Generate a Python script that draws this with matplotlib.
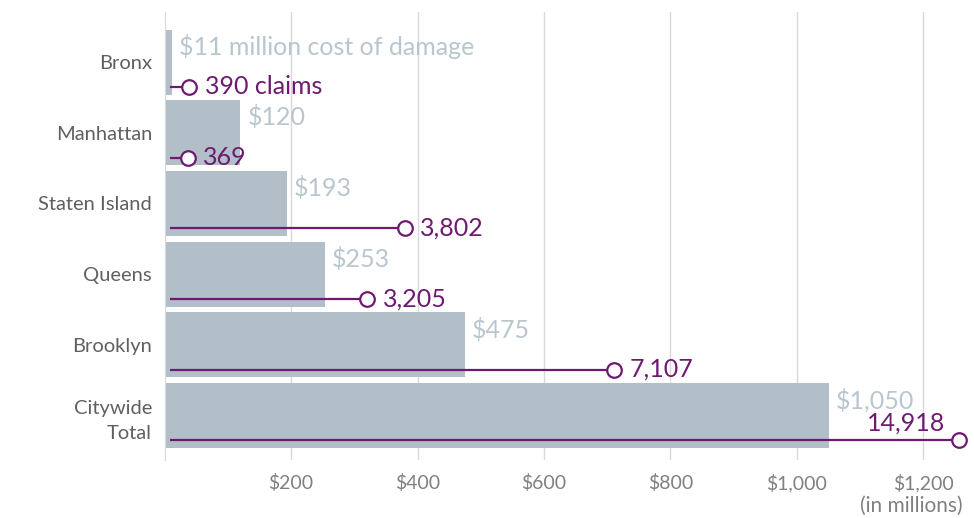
import matplotlib.pyplot as plt
import numpy as np

BOROUGHS = ["Bronx", "Manhattan", "Staten Island", "Queens", "Brooklyn", "Citywide\nTotal"]
COST     = [11, 120, 193, 253, 475, 1050]          # $ millions
CLAIMS   = [390, 369, 3802, 3205, 7107, 14918]
XTICKS   = [200, 400, 600, 800, 1000, 1200]

CLAIM_SCALE = 10     # claims drawn on the cost axis as claims / 10
XMAX = 1257

BAR_C   = "#b2bfc8"
COST_C  = "#b9c6cf"
PURPLE  = "#6e1a70"
GRID_C  = "#d9d9d9"
TICK_C  = "#808080"
CAT_C   = "#606060"

plt.rcParams["font.family"] = ["Lato", "DejaVu Sans"]

fig = plt.figure(figsize=(9.74, 5.18), dpi=100)
ax = fig.add_axes([0.169, 0.112, 0.816, 0.865])

y = np.arange(len(BOROUGHS))
ax.barh(y, COST, height=0.92, color=BAR_C, zorder=2)

line_y = y + 0.35
claim_x = np.minimum(np.array(CLAIMS) / CLAIM_SCALE, XMAX)
for yi, cx in zip(line_y, claim_x):
    ax.plot([8, cx], [yi, yi], color=PURPLE, lw=1.6, zorder=3, solid_capstyle="butt")
ax.scatter(claim_x, line_y, s=110, facecolor="white", edgecolor=PURPLE,
           linewidth=1.6, zorder=4, clip_on=False)

for i, (c, n) in enumerate(zip(COST, CLAIMS)):
    ctxt = f"${c:,} million cost of damage" if i == 0 else f"${c:,}"
    ntxt = f"{n:,} claims" if i == 0 else f"{n:,}"
    ax.annotate(ctxt, (c, y[i]), xytext=(5, 11), textcoords="offset points",
                ha="left", va="center", fontsize=18, color=COST_C, zorder=5)
    if i == len(COST) - 1:
        ax.annotate(ntxt, (claim_x[i], line_y[i]), xytext=(-10, 12), textcoords="offset points",
                    ha="right", va="center", fontsize=18, color=PURPLE, zorder=5)
    else:
        ax.annotate(ntxt, (claim_x[i], line_y[i]), xytext=(11, 0), textcoords="offset points",
                    ha="left", va="center", fontsize=18, color=PURPLE, zorder=5)

ax.set_xlim(0, XMAX)
ax.set_ylim(5.63, -0.71)
ax.set_xticks(XTICKS)
ax.set_xticklabels([f"${v:,}" for v in XTICKS], fontsize=14, color=TICK_C)
ax.set_yticks(y)
ax.set_yticklabels(BOROUGHS, fontsize=14.5, color=CAT_C, linespacing=1.55,
                   multialignment="right")
ax.tick_params(axis="x", length=0, pad=10)
ax.tick_params(axis="y", length=0, pad=9)
ax.xaxis.grid(True, color=GRID_C, lw=1, zorder=0)
ax.set_axisbelow(True)
for s in ["top", "right", "bottom"]:
    ax.spines[s].set_visible(False)
ax.spines["left"].set_color(GRID_C)

fig.text(0.988, 0.005, "(in millions)", ha="right", va="bottom", fontsize=15, color=TICK_C)

fig.savefig("out.png", dpi=100)
